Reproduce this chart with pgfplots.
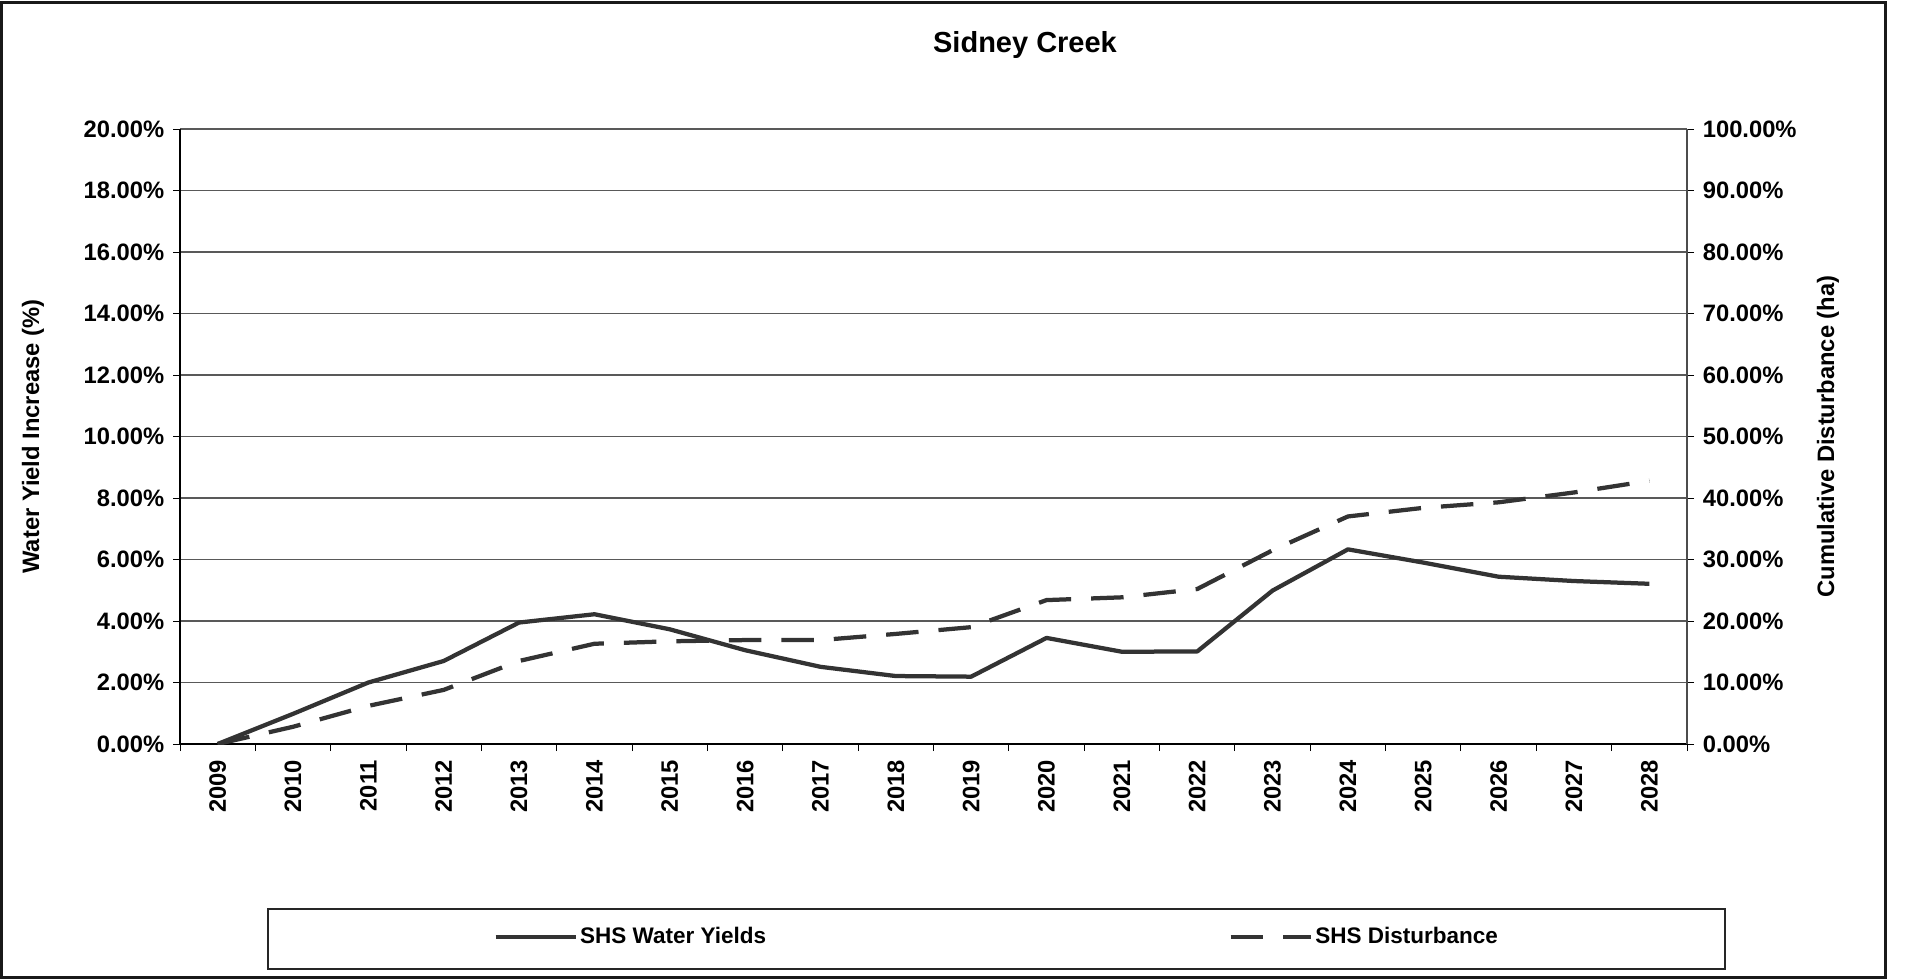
\documentclass[border=0pt]{standalone}
\usepackage{fontspec}
\setmainfont{Liberation Sans}
\usepackage{pgfplots}
\pgfplotsset{compat=1.18}
\newcommand\fs{\fontsize{9.5}{11}\selectfont\bfseries}
\newcommand\lfs{\fontsize{9}{11}\selectfont\bfseries}
\definecolor{ln}{HTML}{333333}
\begin{document}
\begin{tikzpicture}
\useasboundingbox (0,0) rectangle (762.8pt,391.6pt);
\draw[line width=1.2pt, black!90] (0.6pt,0.8pt) rectangle (754pt,390.4pt);
\draw[line width=0.5pt, black!85] (107.2pt,4pt) rectangle (690pt,28pt);
\node[font=\fontsize{11.6}{13}\selectfont\bfseries] at (410pt,373.6pt) {Sidney Creek};
\pgfplotsset{
  base/.style={
    scale only axis, width=602.8pt, height=246pt,
    at={(72pt,94pt)}, anchor=south west,
    xmin=-0.5, xmax=19.5,
    tick label style={font=\fs},
    tick align=outside,
    major tick length=2.8pt,
    every tick/.style={black, line width=0.4pt},
  }
}
\begin{axis}[base,
  axis y line*=left, axis x line*=bottom,
  axis line style={black, line width=0.5pt},
  ymin=0, ymax=20,
  ytick={0,2,...,20},
  yticklabels={0.00\%,2.00\%,4.00\%,6.00\%,8.00\%,10.00\%,12.00\%,14.00\%,16.00\%,18.00\%,20.00\%},
  ymajorgrids, grid style={black!65, line width=0.5pt},
  xtick={0,...,19},
  xticklabels={2009,2010,2011,2012,2013,2014,2015,2016,2017,2018,2019,2020,2021,2022,2023,2024,2025,2026,2027,2028},
  major x tick style={draw=none},
  minor xtick={-0.5,0.5,...,19.5},
  minor x tick style={black, line width=0.4pt},
  minor tick length=2.8pt,
  xticklabel style={rotate=90, anchor=east},
  ylabel={Water Yield Increase (\%)},
  ylabel style={at={(axis description cs:-0.09755,0.5)}, anchor=center, font=\fs},
]
\addplot[ln, line width=1.7pt, line join=round] coordinates {
(0,0) (1,0.98) (2,2.00) (3,2.70) (4,3.95) (5,4.22) (6,3.73) (7,3.05) (8,2.51) (9,2.21)
(10,2.19) (11,3.45) (12,3.00) (13,3.01) (14,4.99) (15,6.33) (16,5.90) (17,5.44) (18,5.30) (19,5.21)};
\end{axis}
\begin{axis}[base,
  axis y line*=right, axis x line=none,
  axis line style={black!70, line width=0.6pt},
  ymin=0, ymax=100,
  ytick={0,10,...,100},
  yticklabels={0.00\%,10.00\%,20.00\%,30.00\%,40.00\%,50.00\%,60.00\%,70.00\%,80.00\%,90.00\%,100.00\%},
  ylabel={Cumulative Disturbance (ha)},
  ylabel style={at={(axis description cs:1.09356,0.5)}, anchor=center, font=\fs},
  legend columns=2,
  legend style={draw=none, fill=none, at={(axis description cs:0.5421,-0.3138)}, anchor=center,
    font=\lfs, nodes={inner sep=1pt},
    /tikz/every even column/.append style={column sep=184pt}},
  legend image code/.code={\draw[#1] (0pt,0pt) -- (32pt,0pt);},
]
\addlegendimage{ln, line width=1.7pt}
\addlegendentry{SHS Water Yields}
\addplot[ln, line width=1.7pt, dash pattern=on 13pt off 8pt] coordinates {
(0,0) (1,2.8) (2,6.2) (3,8.8) (4,13.5) (5,16.3) (6,16.7) (7,16.9) (8,16.9) (9,17.9)
(10,19.0) (11,23.4) (12,23.85) (13,25.2) (14,31.5) (15,37.0) (16,38.4) (17,39.3) (18,40.9) (19,42.8)};
\addlegendentry{SHS Disturbance}
\end{axis}
\end{tikzpicture}
\end{document}
